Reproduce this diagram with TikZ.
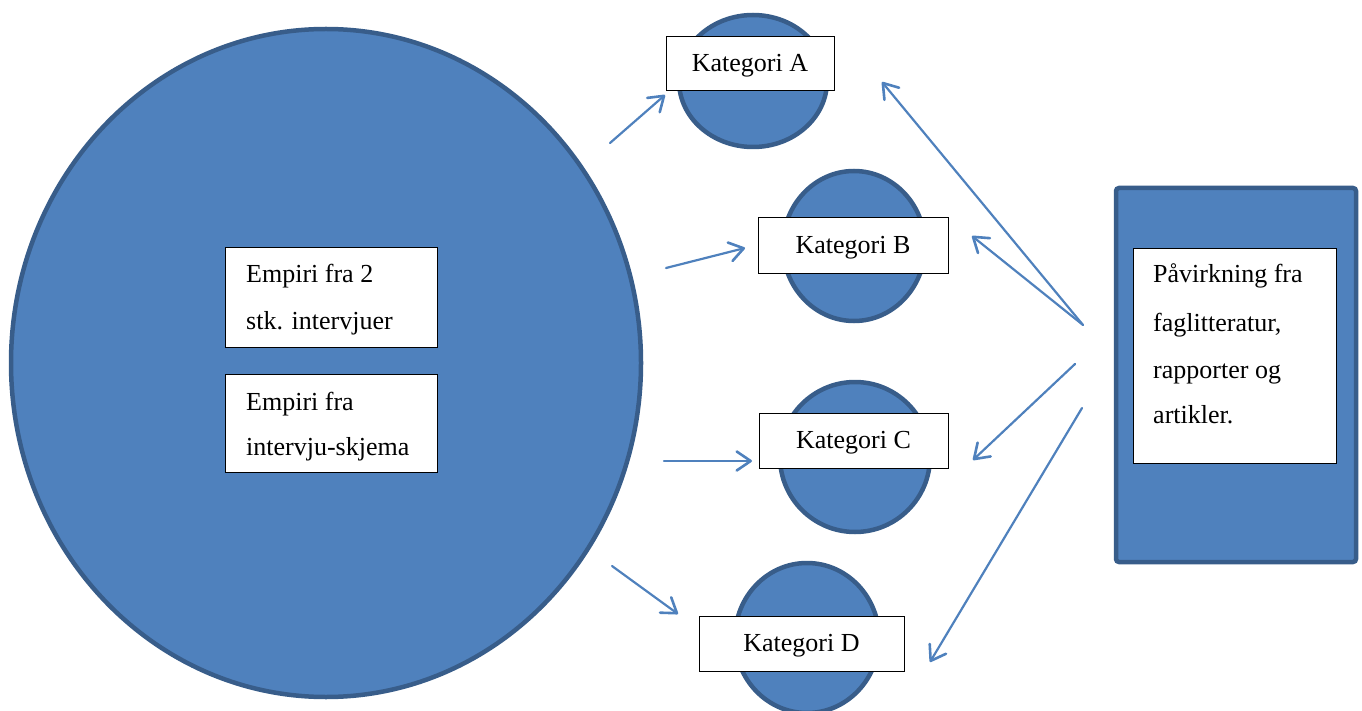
\documentclass[tikz,border=0pt]{standalone}
\usepackage{fontspec}
\setmainfont{Liberation Serif}
\usetikzlibrary{shapes.geometric,arrows.meta}
\definecolor{fillblue}{HTML}{4F81BD}
\definecolor{edgeblue}{HTML}{385D8A}
\begin{document}
\begin{tikzpicture}[x=1pt,y=-1pt,
  blob/.style={ellipse,fill=fillblue,draw=edgeblue,line width=4.5pt,inner sep=0pt},
  tag/.style={rectangle,draw=black,fill=white,line width=1pt,inner sep=0pt,font=\fontsize{26}{30}\selectfont,text height=15pt,text depth=0pt},
  txt/.style={font=\fontsize{26}{30}\selectfont,inner sep=0pt,anchor=base west},
  arr/.style={draw=fillblue,line width=2.2pt,line cap=round,-{Straight Barb[length=14pt,width=19pt,line width=2.6pt,round]}}]
\useasboundingbox (0,0) rectangle (1362,711);
\clip (0,0) rectangle (1362,711);
% big circle
\node[blob,minimum width=630pt,minimum height=668pt] (big) at (326,363) {};
\node[tag,minimum width=212pt,minimum height=99pt] (e1) at (331,297.5) {};
\node[txt] (e1a) at (246,283) {Empiri fra 2};
\node[txt] (e1b) at (246,329) {stk. intervjuer};
\node[tag,minimum width=212pt,minimum height=98pt] (e2) at (331,423) {};
\node[txt] (e2a) at (246,410) {Empiri fra};
\node[txt] (e2b) at (246,455) {intervju-skjema};
% categories
\node[blob,minimum width=148pt,minimum height=132pt] (cA) at (753,81) {};
\node[tag,minimum width=168pt,minimum height=54pt] (kA) at (750,64) {Kategori A};
\node[blob,minimum width=142pt,minimum height=150pt] (cB) at (854,246) {};
\node[tag,minimum width=190pt,minimum height=56pt] (kB) at (853,246) {Kategori B};
\node[blob,minimum width=150pt,minimum height=150pt] (cC) at (855,457) {};
\node[tag,minimum width=189pt,minimum height=55pt] (kC) at (853.5,440.5) {Kategori C};
\node[blob,minimum width=144pt,minimum height=150pt] (cD) at (807,638) {};
\node[tag,minimum width=205pt,minimum height=55pt] (kD) at (801.5,643.5) {Kategori D};
% right box
\node[rectangle,rounded corners=3pt,fill=fillblue,draw=edgeblue,line width=4.5pt,minimum width=240pt,minimum height=374pt,inner sep=0pt] (lit) at (1236,375) {};
\node[tag,minimum width=203pt,minimum height=214pt] (litbox) at (1234.5,356) {};
\node[txt] (l1) at (1153,283) {Påvirkning fra};
\node[txt] (l2) at (1153,331) {faglitteratur,};
\node[txt] (l3) at (1153,378) {rapporter og};
\node[txt] (l4) at (1153,423) {artikler.};
% arrow end points
\coordinate (s1) at (610,143); \coordinate (t1) at (665,95);
\coordinate (s2) at (666,268); \coordinate (t2) at (745,248);
\coordinate (s3) at (664,461); \coordinate (t3) at (752,461);
\coordinate (s4) at (612,566); \coordinate (t4) at (678,614);
\coordinate (r1) at (1083,325); \coordinate (u1) at (882,82);
\coordinate (u2) at (972,236);
\coordinate (r3) at (1075,364); \coordinate (u3) at (973,460);
\coordinate (r4) at (1082,408); \coordinate (u4) at (930,662);
\draw[arr] (s1) -- (t1);
\draw[arr] (s2) -- (t2);
\draw[arr] (s3) -- (t3);
\draw[arr] (s4) -- (t4);
\draw[arr] (r1) -- (u1);
\draw[arr] (r1) -- (u2);
\draw[arr] (r3) -- (u3);
\draw[arr] (r4) -- (u4);
\end{tikzpicture}
\end{document}
